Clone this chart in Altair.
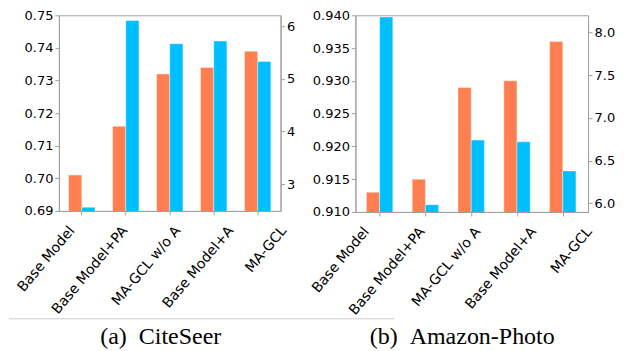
import altair as alt
import pandas as pd

categories = ["Base Model", "Base Model+PA", "MA-GCL w/o A", "Base Model+A", "MA-GCL"]
citeseer_acc = [0.701, 0.716, 0.732, 0.734, 0.739]
citeseer_val = [2.56, 6.11, 5.67, 5.72, 5.33]
photo_acc = [0.913, 0.915, 0.929, 0.930, 0.936]
photo_val = [8.18, 5.985, 6.74, 6.72, 6.38]

citeseer_acc_ticks = [0.69, 0.70, 0.71, 0.72, 0.73, 0.74, 0.75]
citeseer_val_ticks = [3, 4, 5, 6]
photo_acc_ticks = [0.910, 0.915, 0.920, 0.925, 0.930, 0.935, 0.940]
photo_val_ticks = [6.0, 6.5, 7.0, 7.5, 8.0]

ORANGE = "#FF7F50"
BLUE = "#00BFFF"
GREY = "#a0a0a0"


def panel(acc, val, width, height, acc_dom, acc_ticks, acc_fmt, val_dom, val_ticks,
          val_fmt, pin, pout, lab_range, caption, cap_x, cap_y, rule=None):
    df = pd.DataFrame({"cat": categories, "acc": acc, "val": val,
                       "s1": "a", "s2": "b"})
    xaxis = alt.Axis(title=None, labels=False)
    x = alt.X("cat:N", sort=categories,
              scale=alt.Scale(paddingInner=pin, paddingOuter=pout), axis=xaxis)
    base = alt.Chart(df)
    b1 = base.mark_bar(clip=True, color=ORANGE, stroke="white", strokeWidth=0.4).encode(
        x=x,
        xOffset=alt.XOffset("s1:N", scale=alt.Scale(domain=["a", "b"], paddingInner=0, paddingOuter=0)),
        y=alt.Y("acc:Q", scale=alt.Scale(domain=acc_dom, zero=False, nice=False),
                axis=alt.Axis(title=None, orient="left", values=acc_ticks, format=acc_fmt)),
    )
    b2 = base.mark_bar(clip=True, color=BLUE, stroke="white", strokeWidth=0.4).encode(
        x=x,
        xOffset=alt.XOffset("s2:N", scale=alt.Scale(domain=["a", "b"], paddingInner=0, paddingOuter=0)),
        y=alt.Y("val:Q", scale=alt.Scale(domain=val_dom, zero=False, nice=False),
                axis=alt.Axis(title=None, orient="right", values=val_ticks, format=val_fmt)),
    )
    bars = alt.layer(b1, b2).resolve_scale(y="independent")

    labels = base.mark_text(angle=310, align="right", baseline="top", font="DejaVu Sans",
                            fontSize=14, color="black").encode(
        x=alt.X("cat:N", sort=categories,
                scale=alt.Scale(type="point", range=lab_range, padding=0), axis=None),
        y=alt.value(height + 13),
        text="cat:N",
    )
    one = pd.DataFrame({"t": [caption]})
    cap = alt.Chart(one).mark_text(font="Liberation Serif", fontSize=24, color="black",
                                   baseline="middle", align="center").encode(
        text="t:N", x=alt.value(cap_x), y=alt.value(cap_y))
    layers = [bars, labels, cap]
    if rule is not None:
        r = alt.Chart(one).mark_rule(color="#cccccc", strokeWidth=1).encode(
            x=alt.value(rule[0]), x2=alt.value(rule[1]), y=alt.value(rule[2]))
        layers.append(r)
    return alt.layer(*layers).resolve_scale(x="independent", y="independent").properties(
        width=width, height=height)


left = panel(citeseer_acc, citeseer_val, 222, 196, [0.69, 0.75], citeseer_acc_ticks, ".2f",
             [2.49, 6.21], citeseer_val_ticks, "d", 0.4, 0.22, [8, 220],
             "(a)\u00a0\u00a0CiteSeer", 102, 322, rule=(-50, 336, 304))
right = panel(photo_acc, photo_val, 233, 197, [0.91, 0.94], photo_acc_ticks, ".3f",
              [5.9, 8.2], photo_val_ticks, ".1f", 0.4, 0.24, [6, 229],
              "(b)\u00a0\u00a0Amazon-Photo", 107, 322)

chart = alt.hconcat(left, right, spacing=75, bounds="flush").properties(
    padding={"left": 0, "top": 0, "right": 0, "bottom": 0}
).configure_axis(
    labelFont="DejaVu Sans", labelFontSize=13, labelColor="black",
    domainColor=GREY, tickColor=GREY, tickSize=4, labelPadding=2, grid=False
).configure_view(stroke=GREY)

chart.save("out.html", embed_options={"renderer": "svg", "actions": False})
